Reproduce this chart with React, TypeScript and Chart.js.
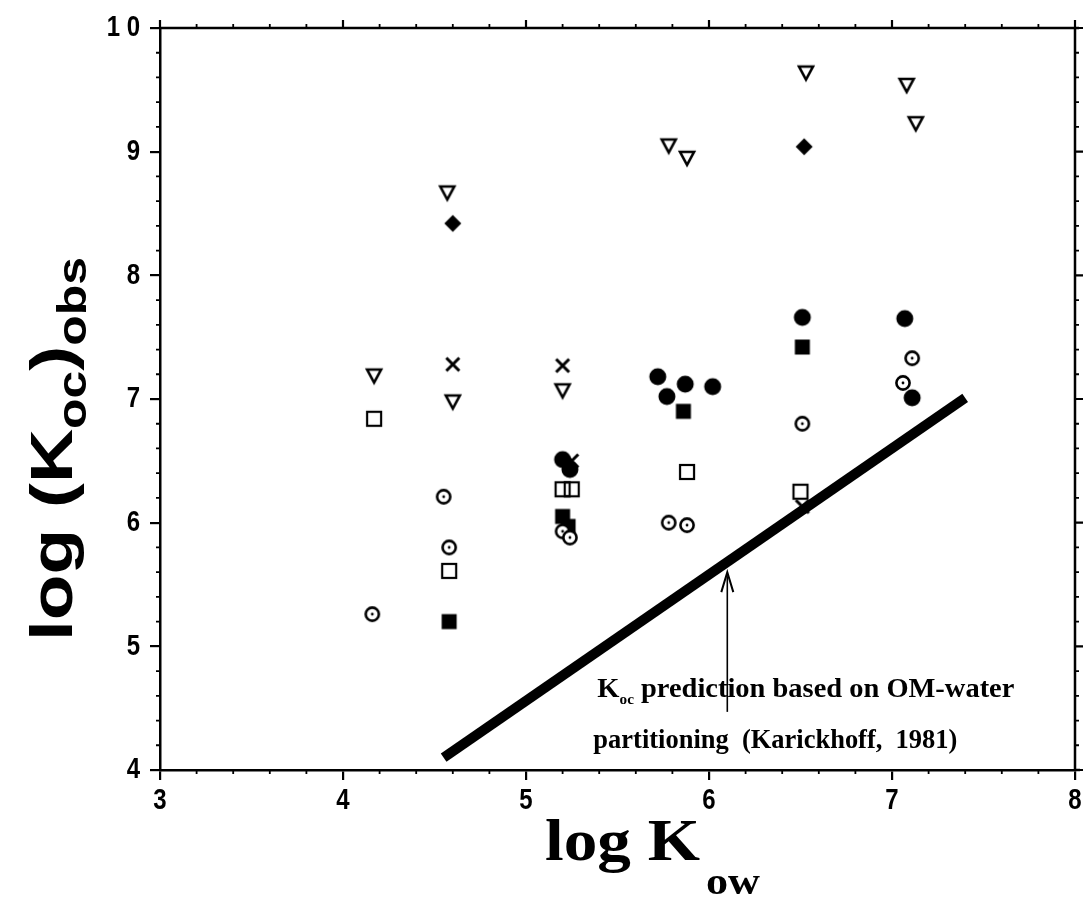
import React, { useEffect, useRef } from 'react';
import { Chart, registerables } from 'chart.js';

Chart.register(...registerables);

// ---- data (log Kow, log Koc obs) ----
const openTriX = [4.17, 4.57, 4.60, 5.20, 5.78, 5.88, 6.53, 7.08, 7.13];
const openTriY = [7.19, 8.67, 6.98, 7.07, 9.05, 8.95, 9.64, 9.54, 9.23];

const diamondX = [4.60, 6.52];
const diamondY = [8.42, 9.04];

const crossX = [4.60, 5.20, 5.25, 6.51];
const crossY = [7.28, 7.27, 6.50, 6.13];

const openSqX = [4.17, 4.58, 5.20, 5.25, 5.88, 6.50];
const openSqY = [6.84, 5.61, 6.27, 6.27, 6.41, 6.25];

const fillSqX = [4.58, 5.20, 5.23, 5.86, 6.51];
const fillSqY = [5.20, 6.05, 5.97, 6.90, 7.42];

const fillCircX = [5.20, 5.24, 5.72, 5.77, 5.87, 6.02, 6.51, 7.07, 7.11];
const fillCircY = [6.51, 6.43, 7.18, 7.02, 7.12, 7.10, 7.66, 7.65, 7.01];

const dotCircX = [4.16, 4.55, 4.58, 5.20, 5.24, 5.78, 5.88, 6.51, 7.06, 7.11];
const dotCircY = [5.26, 6.21, 5.80, 5.93, 5.88, 6.00, 5.98, 6.80, 7.13, 7.33];

// Karickhoff (1981) prediction line
const predX = [4.55, 7.40];
const predY = [4.10, 7.01];

// annotation arrow
const arrowX = 6.10;
const arrowFromY = 4.47;
const arrowToY = 5.60;

const xTicks = [3, 4, 5, 6, 7, 8];
const yTicks = [4, 5, 6, 7, 8, 9, 10];
const xTickLabels = ['3', '4', '5', '6', '7', '8'];
const yTickLabels = ['4', '5', '6', '7', '8', '9', '1 0'];

const toPts = (xs: number[], ys: number[]) => xs.map((x, i) => ({ x, y: ys[i] }));

function marker(kind: string): HTMLCanvasElement {
  const s = 26;
  const c = document.createElement('canvas');
  c.width = s;
  c.height = s;
  const g = c.getContext('2d')!;
  const m = s / 2;
  g.strokeStyle = '#000';
  g.fillStyle = '#000';
  switch (kind) {
    case 'tri':
      g.lineWidth = 2.6;
      g.beginPath();
      g.moveTo(m - 7, m - 6);
      g.lineTo(m + 7, m - 6);
      g.lineTo(m, m + 7);
      g.closePath();
      g.fillStyle = '#fff';
      g.fill();
      g.stroke();
      break;
    case 'diamond':
      g.beginPath();
      g.moveTo(m, m - 8.5);
      g.lineTo(m + 8.5, m);
      g.lineTo(m, m + 8.5);
      g.lineTo(m - 8.5, m);
      g.closePath();
      g.fill();
      break;
    case 'cross':
      g.lineWidth = 3;
      g.beginPath();
      g.moveTo(m - 6.5, m - 6.5);
      g.lineTo(m + 6.5, m + 6.5);
      g.moveTo(m + 6.5, m - 6.5);
      g.lineTo(m - 6.5, m + 6.5);
      g.stroke();
      break;
    case 'osq':
      g.lineWidth = 2.2;
      g.strokeRect(m - 7, m - 7, 14, 14);
      break;
    case 'fsq':
      g.fillRect(m - 7.5, m - 7.5, 15, 15);
      break;
    case 'fcirc':
      g.beginPath();
      g.arc(m, m, 8.5, 0, Math.PI * 2);
      g.fill();
      break;
    case 'dcirc':
      g.lineWidth = 2.6;
      g.beginPath();
      g.arc(m, m, 6.6, 0, Math.PI * 2);
      g.fillStyle = '#fff';
      g.fill();
      g.stroke();
      g.fillStyle = '#000';
      g.beginPath();
      g.arc(m, m, 1.4, 0, Math.PI * 2);
      g.fill();
      break;
  }
  return c;
}

type Part = { t: string; font: string; dy?: number };

function drawFitted(ctx: CanvasRenderingContext2D, parts: Part[], x: number, y: number, targetW: number) {
  const widths = parts.map((p) => {
    ctx.font = p.font;
    return ctx.measureText(p.t).width;
  });
  const total = widths.reduce((a, b) => a + b, 0);
  const sx = targetW / total;
  ctx.save();
  ctx.translate(x, y);
  ctx.scale(sx, 1);
  ctx.fillStyle = '#000';
  ctx.textAlign = 'left';
  ctx.textBaseline = 'alphabetic';
  let cx = 0;
  parts.forEach((p, i) => {
    ctx.font = p.font;
    ctx.fillText(p.t, cx, p.dy || 0);
    cx += widths[i];
  });
  ctx.restore();
}

const sansB = (n: number) => `bold ${n}px "Liberation Sans", Arial, sans-serif`;
const serifB = (n: number) => `bold ${n}px "Liberation Serif", "DejaVu Serif", serif`;

const framePlugin = {
  id: 'frameAndText',
  beforeDatasetsDraw(chart: any) {
    const { ctx, chartArea, scales } = chart;
    const xs = scales.x;
    const ys = scales.y;
    ctx.save();
    ctx.strokeStyle = '#000';
    ctx.lineWidth = 2.5;
    // top & right borders
    ctx.beginPath();
    ctx.moveTo(chartArea.left, chartArea.top);
    ctx.lineTo(chartArea.right + 4, chartArea.top);
    ctx.moveTo(chartArea.right, chartArea.top);
    ctx.lineTo(chartArea.right, chartArea.bottom);
    ctx.moveTo(chartArea.right, chartArea.bottom);
    ctx.lineTo(chartArea.right + 5, chartArea.bottom);
    ctx.stroke();
    // minor ticks
    ctx.lineWidth = 1.8;
    ctx.beginPath();
    for (let i = 1; i < 25; i++) {
      if (i % 5 === 0) continue;
      const px = xs.getPixelForValue(3 + i * 0.2);
      ctx.moveTo(px, chartArea.bottom);
      ctx.lineTo(px, chartArea.bottom + 4);
      ctx.moveTo(px, chartArea.top);
      ctx.lineTo(px, chartArea.top - 4);
    }
    for (let i = 1; i < 30; i++) {
      if (i % 5 === 0) continue;
      const py = ys.getPixelForValue(4 + i * 0.2);
      ctx.moveTo(chartArea.left, py);
      ctx.lineTo(chartArea.left - 4, py);
      ctx.moveTo(chartArea.right, py);
      ctx.lineTo(chartArea.right + 4, py);
    }
    ctx.stroke();
    // major ticks top/right
    ctx.lineWidth = 2.2;
    ctx.beginPath();
    xTicks.forEach((v) => {
      const px = xs.getPixelForValue(v);
      ctx.moveTo(px, chartArea.top);
      ctx.lineTo(px, chartArea.top - 8);
    });
    yTicks.forEach((v) => {
      const py = ys.getPixelForValue(v);
      ctx.moveTo(chartArea.right, py);
      ctx.lineTo(chartArea.right + 8, py);
    });
    ctx.stroke();
    ctx.restore();
  },
  afterDatasetsDraw(chart: any) {
    const { ctx, scales } = chart;
    const xs = scales.x;
    const ys = scales.y;
    ctx.save();
    // arrow
    const ax = xs.getPixelForValue(arrowX);
    const y0 = ys.getPixelForValue(arrowFromY);
    const y1 = ys.getPixelForValue(arrowToY);
    ctx.strokeStyle = '#000';
    ctx.fillStyle = '#000';
    ctx.lineWidth = 1.6;
    ctx.beginPath();
    ctx.moveTo(ax, y0);
    ctx.lineTo(ax, y1 + 4);
    ctx.stroke();
    ctx.lineWidth = 2;
    ctx.beginPath();
    ctx.moveTo(ax - 6, y1 + 20);
    ctx.lineTo(ax, y1);
    ctx.lineTo(ax + 6, y1 + 20);
    ctx.stroke();
    // annotation text
    const tx = xs.getPixelForValue(5.39);
    drawFitted(
      ctx,
      [
        { t: 'K', font: serifB(28) },
        { t: 'oc', font: serifB(15), dy: 7 },
        { t: ' prediction based on OM-water', font: serifB(28) },
      ],
      tx,
      ys.getPixelForValue(4.59),
      417
    );
    drawFitted(
      ctx,
      [{ t: 'partitioning  (Karickhoff,  1981)', font: serifB(28) }],
      tx - 4,
      ys.getPixelForValue(4.175),
      364
    );
    ctx.restore();
  },
  afterDraw(chart: any) {
    const { ctx, chartArea, scales } = chart;
    const xs = scales.x;
    const ys = scales.y;
    ctx.save();
    // tick labels (condensed bold sans)
    ctx.fillStyle = '#000';
    ctx.font = sansB(30);
    ctx.textBaseline = 'middle';
    const sx = 0.8;
    xTicks.forEach((v, i) => {
      const px = xs.getPixelForValue(v);
      const w = ctx.measureText(xTickLabels[i]).width * sx;
      ctx.save();
      ctx.translate(px - w / 2, chartArea.bottom + 31);
      ctx.scale(sx, 1);
      ctx.textAlign = 'left';
      ctx.fillText(xTickLabels[i], 0, 0);
      ctx.restore();
    });
    yTicks.forEach((v, i) => {
      const py = ys.getPixelForValue(v);
      const w = ctx.measureText(yTickLabels[i]).width * sx;
      ctx.save();
      ctx.translate(chartArea.left - 20 - w, py);
      ctx.scale(sx, 1);
      ctx.textAlign = 'left';
      ctx.fillText(yTickLabels[i], 0, 0);
      ctx.restore();
    });
    ctx.restore();

    ctx.save();
    // x title
    drawFitted(ctx, [{ t: 'log K', font: serifB(60) }], 545, 860, 155);
    drawFitted(ctx, [{ t: 'ow', font: serifB(38) }], 706, 894, 54);
    // y title (rotated)
    ctx.translate(72, 449);
    ctx.rotate(-Math.PI / 2);
    drawFitted(
      ctx,
      [
        { t: 'log (K', font: sansB(60) },
        { t: 'oc', font: sansB(40), dy: 14 },
        { t: ')', font: sansB(60) },
        { t: 'obs', font: sansB(40), dy: 14 },
      ],
      -192,
      0,
      384
    );
    ctx.restore();
  },
};

export default function App() {
  const ref = useRef<HTMLCanvasElement | null>(null);
  useEffect(() => {
    if (!ref.current) return;
    const chart = new Chart(ref.current, {
      type: 'scatter',
      data: {
        datasets: [
          {
            type: 'line',
            data: toPts(predX, predY),
            borderColor: '#000',
            borderWidth: 10,
            borderCapStyle: 'butt',
            pointRadius: 0,
            showLine: true,
            fill: false,
          } as any,
          { data: toPts(fillCircX, fillCircY), pointStyle: marker('fcirc'), pointRadius: 9 },
          { data: toPts(dotCircX, dotCircY), pointStyle: marker('dcirc'), pointRadius: 8 },
          { data: toPts(fillSqX, fillSqY), pointStyle: marker('fsq'), pointRadius: 8 },
          { data: toPts(openSqX, openSqY), pointStyle: marker('osq'), pointRadius: 8 },
          { data: toPts(crossX, crossY), pointStyle: marker('cross'), pointRadius: 8 },
          { data: toPts(diamondX, diamondY), pointStyle: marker('diamond'), pointRadius: 9 },
          { data: toPts(openTriX, openTriY), pointStyle: marker('tri'), pointRadius: 8 },
        ],
      },
      options: {
        responsive: false,
        animation: false,
        layout: { padding: { top: 28, right: 11, left: 0, bottom: 0 } },
        plugins: { legend: { display: false }, tooltip: { enabled: false } },
        scales: {
          x: {
            type: 'linear',
            min: 3,
            max: 8,
            afterFit: (s: any) => {
              s.height = 141;
            },
            afterBuildTicks: (s: any) => {
              s.ticks = xTicks.map((v) => ({ value: v }));
            },
            ticks: { display: false },
            grid: { drawOnChartArea: false, drawTicks: true, tickLength: 10, color: '#000', lineWidth: 2.2 },
            border: { color: '#000', width: 2.5 },
          },
          y: {
            type: 'linear',
            min: 4,
            max: 10,
            afterFit: (s: any) => {
              s.width = 160;
            },
            afterBuildTicks: (s: any) => {
              s.ticks = yTicks.map((v) => ({ value: v }));
            },
            ticks: { display: false },
            grid: { drawOnChartArea: false, drawTicks: true, tickLength: 10, color: '#000', lineWidth: 2.2 },
            border: { color: '#000', width: 2.5 },
          },
        },
      },
      plugins: [framePlugin],
    });
    return () => chart.destroy();
  }, []);
  return (
    <div style={{ position: 'absolute', left: 0, top: 0, width: 1086, height: 911, background: '#fff' }}>
      <canvas ref={ref} width={1086} height={911} style={{ width: 1086, height: 911, display: 'block' }} />
    </div>
  );
}
